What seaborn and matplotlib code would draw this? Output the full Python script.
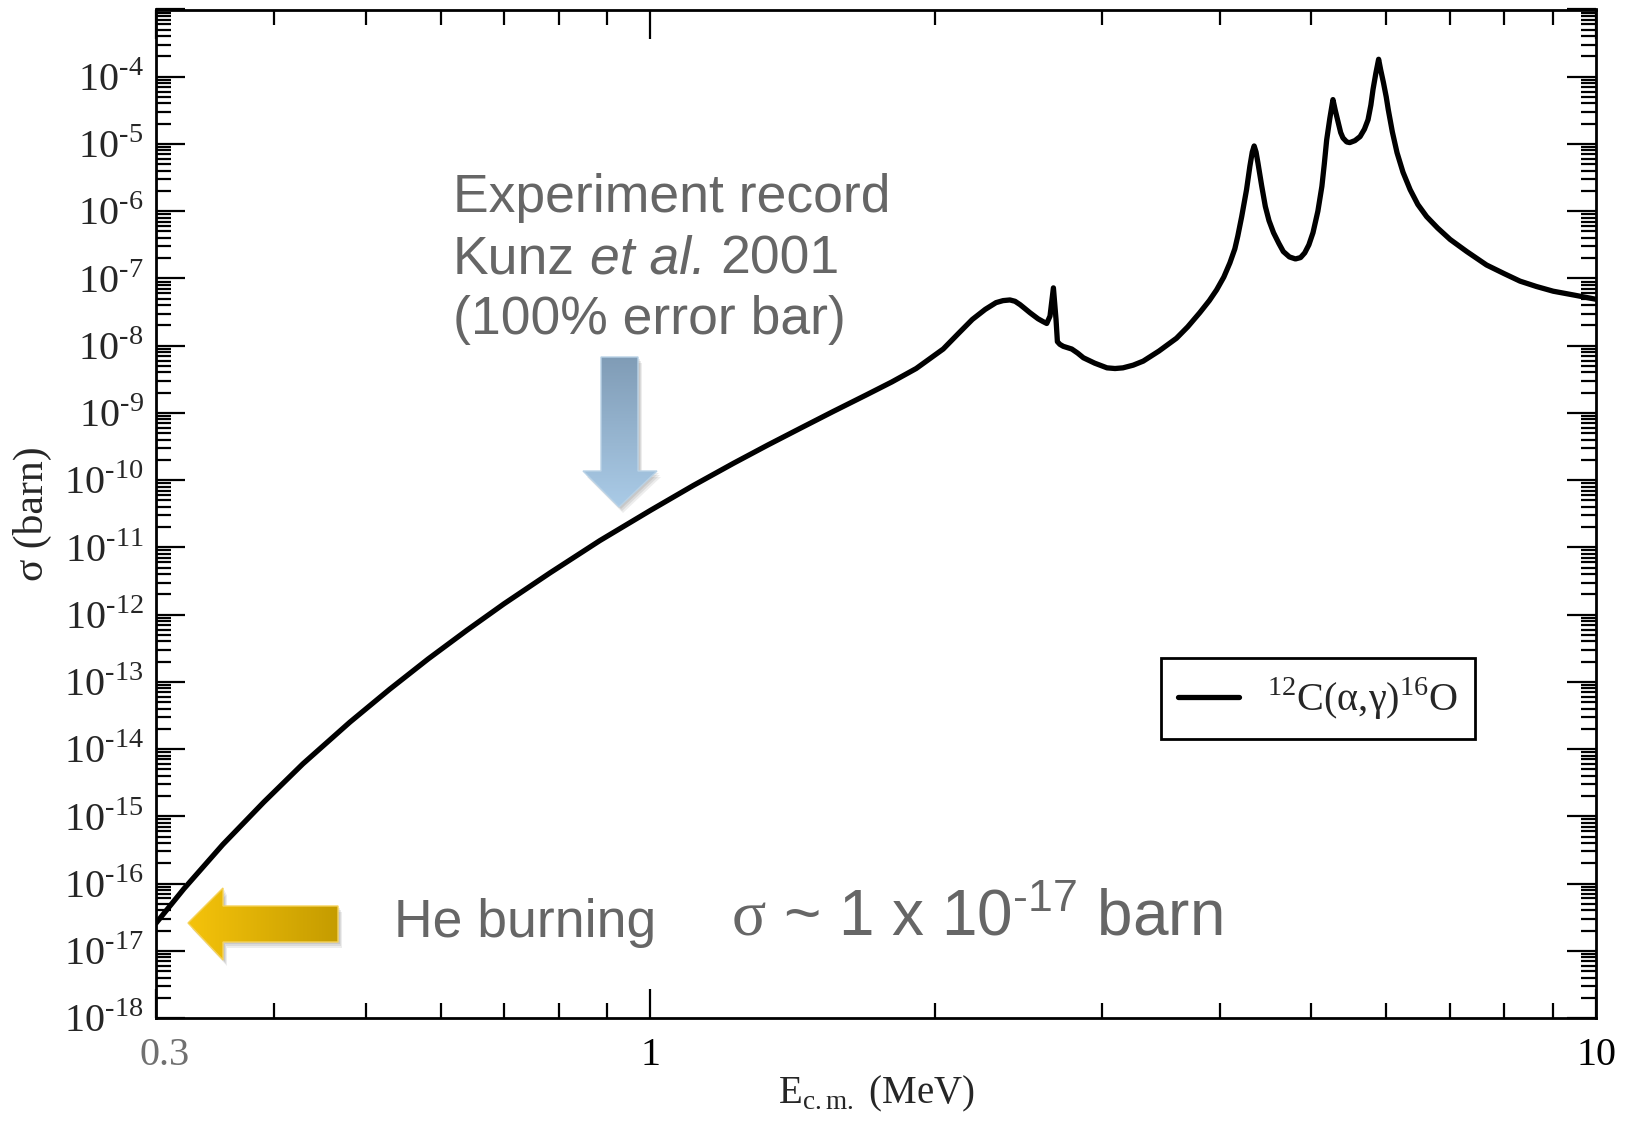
import numpy as np
import pandas as pd
import matplotlib
matplotlib.use("Agg")
import matplotlib.pyplot as plt
import seaborn as sns
from matplotlib.patches import Polygon
from matplotlib.colors import to_rgb
from matplotlib.transforms import ScaledTranslation
from matplotlib.ticker import FixedLocator, FixedFormatter, LogLocator, NullFormatter

# ---------------- data (log axis readings) ----------------
energy_mev = [0.300, 0.321, 0.353, 0.390, 0.429, 0.481, 0.530, 0.582, 0.640, 0.700,
              0.783, 0.884, 1.000, 1.110, 1.224, 1.330, 1.440, 1.560, 1.693, 1.800,
              1.910, 2.040, 2.120, 2.190, 2.260, 2.320, 2.360, 2.400, 2.430, 2.460,
              2.490, 2.520, 2.570, 2.600, 2.625, 2.646, 2.668, 2.685, 2.694, 2.710,
              2.733, 2.790, 2.830, 2.870, 2.950, 3.040, 3.100, 3.160, 3.240, 3.320,
              3.450, 3.600, 3.700, 3.810, 3.900, 3.970, 4.040, 4.100, 4.150, 4.180,
              4.220, 4.270, 4.305, 4.330, 4.350, 4.370, 4.390, 4.430, 4.470, 4.510,
              4.560, 4.620, 4.670, 4.740, 4.810, 4.870, 4.920, 4.970, 5.020, 5.080,
              5.130, 5.160, 5.190, 5.230, 5.270, 5.300, 5.340, 5.370, 5.400, 5.450,
              5.490, 5.560, 5.630, 5.690, 5.740, 5.780, 5.810, 5.850, 5.890, 5.920,
              5.960, 6.000, 6.030, 6.090, 6.160, 6.250, 6.360, 6.480, 6.620, 6.800,
              7.010, 7.300, 7.660, 8.000, 8.310, 8.650, 9.010, 9.500, 10.00]
log10_sigma_barn = [-16.59, -16.08, -15.42, -14.79, -14.22, -13.60, -13.11, -12.66, -12.23, -11.84,
                    -11.38, -10.90, -10.45, -10.08, -9.75, -9.48, -9.23, -8.98, -8.73, -8.54,
                    -8.34, -8.05, -7.81, -7.61, -7.46, -7.36, -7.33, -7.32, -7.34, -7.39,
                    -7.45, -7.51, -7.60, -7.64, -7.67, -7.56, -7.14, -7.61, -7.94, -7.98,
                    -8.01, -8.05, -8.11, -8.18, -8.26, -8.33, -8.34, -8.33, -8.29, -8.23,
                    -8.08, -7.89, -7.72, -7.51, -7.33, -7.17, -6.98, -6.77, -6.56, -6.37,
                    -6.08, -5.68, -5.33, -5.12, -5.03, -5.12, -5.28, -5.62, -5.93, -6.14,
                    -6.32, -6.48, -6.60, -6.68, -6.71, -6.69, -6.62, -6.50, -6.32, -6.00,
                    -5.63, -5.30, -4.94, -4.62, -4.34, -4.50, -4.69, -4.83, -4.91, -4.97,
                    -4.98, -4.95, -4.89, -4.78, -4.64, -4.42, -4.19, -3.95, -3.74, -3.90,
                    -4.09, -4.30, -4.49, -4.82, -5.13, -5.42, -5.68, -5.90, -6.08, -6.25,
                    -6.42, -6.60, -6.80, -6.93, -7.04, -7.12, -7.19, -7.25, -7.31]
series_label = "$^{12}$C(α,γ)$^{16}$O"

x_ticks = [0.3, 1, 10]
x_tick_labels = ["0.3", "1", "10"]
x_minor = [0.4, 0.5, 0.6, 0.7, 0.8, 0.9, 2, 3, 4, 5, 6, 7, 8, 9]
y_exponents = list(range(-18, -2))

# ---------------- style ----------------
sns.set_style("ticks")
plt.rcParams.update({
    "font.family": ["Liberation Serif", "DejaVu Sans"],
    "mathtext.fontset": "custom",
    "mathtext.rm": "Liberation Serif",
    "mathtext.it": "Liberation Sans:italic",
    "mathtext.sf": "Liberation Sans",
    "axes.linewidth": 2.0,
})

FW, FH = 1626, 1122
fig = plt.figure(figsize=(FW / 100, FH / 100), dpi=100)
L, R, T, B = 156, 1596, 9.5, 1018
ax = fig.add_axes([L / FW, 1 - B / FH, (R - L) / FW, (B - T) / FH])

df = pd.DataFrame({"E": energy_mev, "sigma": np.power(10.0, log10_sigma_barn)})
sns.lineplot(data=df, x="E", y="sigma", ax=ax, color="black", lw=3.8,
             estimator=None, sort=False, label=series_label)
ax.set_xscale("log")
ax.set_yscale("log")
ax.set_xlim(0.3, 10)
ax.set_ylim(1e-18, 1e-3)

ax.xaxis.set_major_locator(FixedLocator(x_ticks))
ax.xaxis.set_major_formatter(FixedFormatter(x_tick_labels))
ax.xaxis.set_minor_locator(FixedLocator(x_minor))
ax.xaxis.set_minor_formatter(NullFormatter())

y_major = [10.0 ** e for e in y_exponents]
y_labels = [r"$\mathrm{10}^{\mathrm{‐%d}}$" % (-e) if e <= -4 else "" for e in y_exponents]
ax.yaxis.set_major_locator(FixedLocator(y_major))
ax.yaxis.set_major_formatter(FixedFormatter(y_labels))
ax.yaxis.set_minor_locator(LogLocator(base=10, subs=np.arange(2, 10), numticks=200))
ax.yaxis.set_minor_formatter(NullFormatter())

ax.tick_params(which="both", direction="in", top=True, right=True, width=1.6, color="black")
ax.tick_params(which="major", length=21)
ax.tick_params(which="minor", length=11)
ax.tick_params(axis="y", labelsize=29, pad=9)
ax.tick_params(axis="x", labelsize=29, pad=14)
for lab in ax.get_xticklabels():
    if lab.get_text() == "0.3":
        lab.set_color("#707070")
        lab.set_transform(lab.get_transform() + ScaledTranslation(0.09, 0, fig.dpi_scale_trans))
    else:
        lab.set_color("black")
for s in ax.spines.values():
    s.set_linewidth(2.0)
    s.set_color("black")

ax.set_xlabel(r"$\mathrm{E}_{\mathrm{c.m.}}$ (MeV)", fontsize=28)
ax.set_ylabel("σ (barn)", fontsize=30)
ax.xaxis.set_label_coords(0.5, (B - 1074) / (B - T))
ax.yaxis.set_label_coords((52 - L) / (R - L), 0.5)

leg = ax.legend(loc="center", bbox_to_anchor=(0.807, 0.317), frameon=True, fancybox=False,
                framealpha=1, edgecolor="black", prop={"family": "Liberation Serif", "size": 29},
                handlelength=1.5, handletextpad=0.7, borderpad=0.42)
leg.get_frame().set_linewidth(2.0)


# ---------------- slide annotations ----------------
def fx(x):
    return x / FW


def fy(y):
    return 1 - y / FH


grey = "#666666"
ann_size = 38.5
ann_kw = dict(family="Liberation Sans", color=grey, fontsize=ann_size, va="baseline", ha="left")
fig.text(fx(453), fy(212), "Experiment record", **ann_kw)
fig.text(fx(453), fy(334), "(100% error bar)", **ann_kw)
fig.text(fx(394), fy(937), "He burning", **ann_kw)
fig.text(fx(731), fy(936), r"$\mathrm{σ}$ ~ 1 x 10$^{\mathsf{‐17}}$ barn",
         family="Liberation Sans", color=grey, fontsize=46, va="baseline", ha="left")

# "Kunz et al. 2001" built from pieces so that only "et al." is italic
renderer = fig.canvas.get_renderer()
space_px = 0.278 * ann_size * 100 / 72
x_cursor = 453
for piece, style in [("Kunz", "normal"), ("et al.", "italic"), ("2001", "normal")]:
    t = fig.text(fx(x_cursor), fy(273), piece, style=style, **ann_kw)
    w = t.get_window_extent(renderer=renderer).width
    x_cursor += w + space_px


def gradient_arrow(pts, c_start, c_end, vertical, edge):
    pts = np.array(pts, float)
    xmin, ymin = pts.min(0) - 12
    xmax, ymax = pts.max(0) + 12
    a = fig.add_axes([xmin / FW, 1 - ymax / FH, (xmax - xmin) / FW, (ymax - ymin) / FH])
    a.axis("off")
    for off, al in [((4, 6), 0.07), ((3, 4), 0.08), ((2, 2), 0.08)]:
        a.add_patch(Polygon(pts + np.array(off), closed=True, facecolor="black",
                            alpha=al, edgecolor="none", zorder=1))
    t = np.linspace(0, 1, 256)
    c0, c1 = np.array(to_rgb(c_start)), np.array(to_rgb(c_end))
    grad = c0[None, :] * (1 - t[:, None]) + c1[None, :] * t[:, None]
    img = grad[:, None, :] if vertical else grad[None, :, :]
    px0, py0 = pts.min(0)
    px1, py1 = pts.max(0)
    im = a.imshow(img, extent=(px0, px1, py1, py0), origin="upper", aspect="auto",
                  interpolation="bilinear", zorder=2)
    poly = Polygon(pts, closed=True, facecolor="none", edgecolor=edge, lw=1.0, zorder=3)
    a.add_patch(poly)
    im.set_clip_path(poly)
    a.set_xlim(xmin, xmax)
    a.set_ylim(ymax, ymin)


gradient_arrow([(601, 357), (638, 357), (638, 471), (657, 471), (619, 507), (583, 471), (601, 471)],
               "#809cb6", "#aacbe7", True, "#b9d2e6")
gradient_arrow([(188, 923), (223, 888), (223, 906), (338, 906), (338, 942), (223, 942), (223, 960)],
               "#f5c30b", "#c59c00", False, "#f5d25a")

fig.savefig("out.png", dpi=100)
